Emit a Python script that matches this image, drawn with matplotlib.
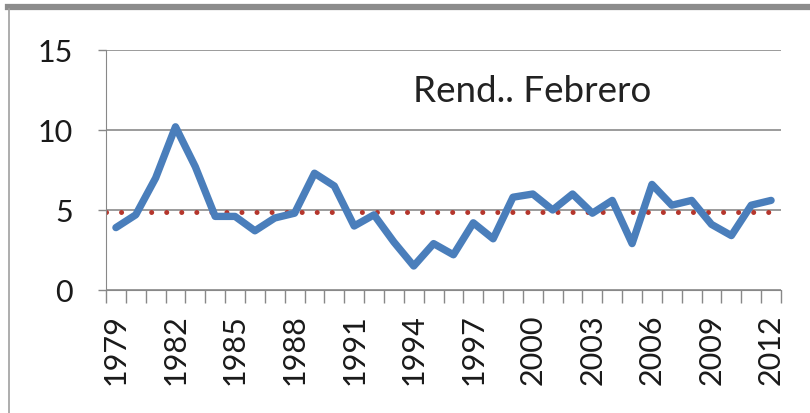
import matplotlib
matplotlib.use("Agg")
import matplotlib.pyplot as plt
from matplotlib.lines import Line2D

# Rendimiento de febrero por año
years = list(range(1979, 2013))
rend = [3.9, 4.7, 7.0, 10.2, 7.7, 4.6, 4.6, 3.7, 4.5, 4.8,
        7.3, 6.5, 4.0, 4.7, 3.0, 1.5, 2.9, 2.2, 4.2, 3.2,
        5.8, 6.0, 5.0, 6.0, 4.8, 5.6, 2.9, 6.6, 5.3, 5.6,
        4.1, 3.4, 5.3, 5.6]
promedio = 4.9
yticks = [0, 5, 10, 15]

plt.rcParams['font.family'] = ['Lato', 'DejaVu Sans']

fig = plt.figure(figsize=(8.1, 4.14), dpi=100)
ax = fig.add_axes([106 / 810, 1 - 291 / 414, (781 - 106) / 810, (291 - 51) / 414])

x = list(range(len(years)))
ax.plot(x, rend, color='#4a7ebb', lw=5.3, solid_joinstyle='round',
        solid_capstyle='round', zorder=3)
ax.axhline(promedio, color='#b5362c', lw=3.6, linestyle=(0, (0.01, 3.0)),
           dash_capstyle='round', zorder=2)

ax.set_xlim(-0.5, len(years) - 0.5)
ax.set_ylim(0, 15)
ax.set_yticks(yticks)
ax.set_yticklabels([str(v) for v in yticks], fontsize=22, color='#1a1a1a')

# etiquetas cada tres años, marcas entre categorías
ax.set_xticks([i - 0.5 for i in range(len(years) + 1)], minor=True)
ax.set_xticks(x[::3])
ax.set_xticklabels([str(y) for y in years[::3]], rotation=90, fontsize=22,
                   color='#1a1a1a')
ax.tick_params(axis='x', which='major', length=0, pad=17)
ax.tick_params(axis='x', which='minor', length=9, color='#888888', width=1)
ax.tick_params(axis='y', length=6, color='#888888', width=1, pad=18)

ax.grid(axis='y', color='#8a8a8a', lw=1.2)
ax.set_axisbelow(True)
for s in ['top', 'right']:
    ax.spines[s].set_visible(False)
ax.spines['left'].set_color('#888888')
ax.spines['bottom'].set_color('#888888')

ax.text(0.455, 0.7875, 'Rend.. Febrero', transform=ax.transAxes, fontsize=26.5,
        ha='left', va='baseline', color='#222222')

# marco gris
fig.add_artist(Line2D([0.01, 1], [0.9807, 0.9807], transform=fig.transFigure,
                      color='#8c8c8c', lw=4.5))
fig.add_artist(Line2D([0.011, 0.011], [0, 0.975], transform=fig.transFigure,
                      color='#a0a0a0', lw=1.2))

fig.savefig('out.png', dpi=100)
